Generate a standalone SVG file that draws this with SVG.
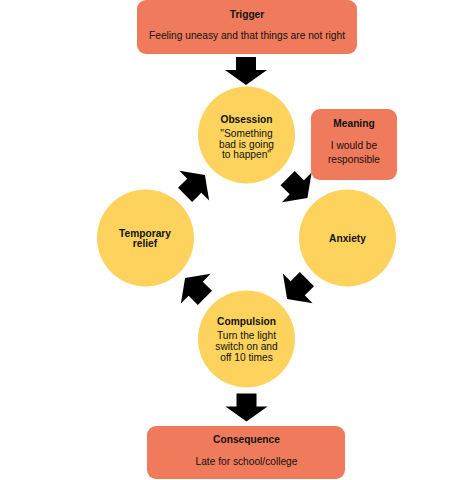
<svg xmlns="http://www.w3.org/2000/svg" width="450" height="480" viewBox="0 0 450 480">
<defs>
<style>
.box{fill:#F07B5C;}
.circ{fill:#FDD35D;}
text{font-family:"Liberation Sans",Arial,sans-serif;font-size:10.2px;fill:#111;text-anchor:middle;}
.t{font-weight:bold;}
.arr{fill:#000;}
</style>
<path id="ar" d="M-14,-10 L-1,-10 L-1,-21 L14,0 L-1,21 L-1,10 L-14,10 Z"/>
</defs>
<rect width="450" height="480" fill="#fff"/>
<g id="connectors">
<use href="#ar" class="arr" transform="translate(246,71) rotate(90)"/>
<use href="#ar" class="arr" transform="translate(297.5,188) rotate(45)"/>
<use href="#ar" class="arr" transform="translate(297,289) rotate(135)"/>
<use href="#ar" class="arr" transform="translate(195,288) rotate(225)"/>
<use href="#ar" class="arr" transform="translate(195,185) rotate(-45)"/>
<use href="#ar" class="arr" transform="translate(246.5,407.5) rotate(90)"/>
</g>
<g id="trigger">
<rect class="box" x="137" y="0" width="220" height="54" rx="9"/>
<text class="t" x="247" y="18">Trigger</text>
<text x="247" y="39">Feeling uneasy and that things are not right</text>
</g>
<g id="obsession">
<circle class="circ" cx="246.5" cy="135" r="48.5"/>
<text class="t" x="246.5" y="122.5">Obsession</text>
<text x="246.5" y="137">"Something</text>
<text x="246.5" y="147.5">bad is going</text>
<text x="246.5" y="158">to happen"</text>
</g>
<g id="meaning">
<rect class="box" x="311" y="109" width="86" height="71" rx="9"/>
<text class="t" x="354" y="127">Meaning</text>
<text x="354" y="149">I would be</text>
<text x="354" y="163">responsible</text>
</g>
<g id="anxiety">
<circle class="circ" cx="347.5" cy="238" r="48.5"/>
<text class="t" x="347.5" y="241.5">Anxiety</text>
</g>
<g id="relief">
<circle class="circ" cx="145.5" cy="238" r="48.5"/>
<text class="t" x="145" y="236.5">Temporary</text>
<text class="t" x="145" y="246.5">relief</text>
</g>
<g id="compulsion">
<circle class="circ" cx="246.5" cy="339" r="48.5"/>
<text class="t" x="246.5" y="325">Compulsion</text>
<text x="246.5" y="339">Turn the light</text>
<text x="246.5" y="350">switch on and</text>
<text x="246.5" y="360.5">off 10 times</text>
</g>
<g id="consequence">
<rect class="box" x="147" y="426" width="198" height="53" rx="9"/>
<text class="t" x="246.5" y="443">Consequence</text>
<text x="246.5" y="465">Late for school/college</text>
</g>
</svg>
